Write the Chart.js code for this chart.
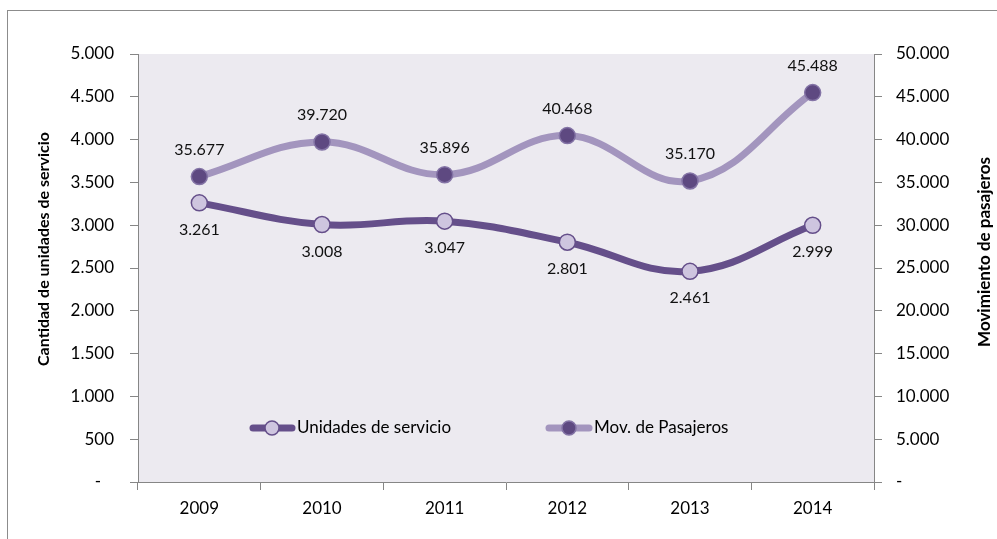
<!DOCTYPE html>
<html>
<head>
<meta charset="utf-8">
<script src="https://cdn.jsdelivr.net/npm/chart.js@4.4.0/dist/chart.umd.min.js"></script>
<style>
  html, body { margin: 0; padding: 0; background: #ffffff; }
  #wrap { width: 997px; height: 539px; position: relative; }
</style>
</head>
<body>
<div id="wrap"><canvas id="c" width="997" height="539"></canvas></div>
<script>
const categories = ['2009', '2010', '2011', '2012', '2013', '2014'];
const unidadesServicio = [3261, 3008, 3047, 2801, 2461, 2999];
const movPasajeros = [35677, 39720, 35896, 40468, 35170, 45488];
const seriesNames = ['Unidades de servicio', 'Mov. de Pasajeros'];
const leftAxisTitle = 'Cantidad de unidades de servicio';
const rightAxisTitle = 'Movimiento de pasajeros';

const FONT = 'Lato, "Open Sans", sans-serif';
const AXIS = '#868686';
const C_UNI_LINE = '#654F8A';
const C_UNI_PT = '#CEC5DF';
const C_MOV_LINE = '#A395BE';
const C_MOV_PT = '#5E4981';
const C_MOV_PT_BORDER = '#8474A6';

function fmt(v) {
  if (v === 0) return '-';
  return String(Math.round(v)).replace(/\B(?=(\d{3})+(?!\d))/g, '.');
}

const decorPlugin = {
  id: 'decor',
  beforeDraw(chart) {
    const ctx = chart.ctx, a = chart.chartArea;
    ctx.save();
    ctx.fillStyle = '#ffffff';
    ctx.fillRect(0, 0, chart.width, chart.height);
    ctx.strokeStyle = '#8c8c8c';
    ctx.lineWidth = 1;
    ctx.strokeRect(7.5, 10.5, 2000, 2000);
    ctx.fillStyle = '#ECEAF0';
    ctx.fillRect(a.left, a.top, a.right - a.left, a.bottom - a.top);
    ctx.restore();
  },
  afterDatasetsDraw(chart) {
    const ctx = chart.ctx;
    ctx.save();
    ctx.font = '16px ' + FONT;
    ctx.fillStyle = '#111111';
    ctx.textAlign = 'center';
    ctx.textBaseline = 'middle';
    const m0 = chart.getDatasetMeta(0), m1 = chart.getDatasetMeta(1);
    m0.data.forEach((p, i) => ctx.fillText(fmt(unidadesServicio[i]), p.x, p.y + 27));
    m1.data.forEach((p, i) => ctx.fillText(fmt(movPasajeros[i]), p.x, p.y - 27));

    // axis titles
    ctx.fillStyle = '#000000';
    ctx.save();
    ctx.font = 'bold 16px ' + FONT;
    ctx.translate(44, 249);
    ctx.rotate(-Math.PI / 2);
    ctx.fillText(leftAxisTitle, 0, 0);
    ctx.restore();
    ctx.save();
    ctx.font = 'bold 17px ' + FONT;
    ctx.translate(985, 252);
    ctx.rotate(-Math.PI / 2);
    ctx.fillText(rightAxisTitle, 0, 0);
    ctx.restore();

    // legend
    const ly = 428;
    const items = [
      { x0: 250, x1: 295, mx: 272, line: C_UNI_LINE, fill: C_UNI_PT, border: C_UNI_LINE, tx: 297, name: seriesNames[0] },
      { x0: 546, x1: 592, mx: 569, line: C_MOV_LINE, fill: C_MOV_PT, border: C_MOV_PT_BORDER, tx: 594, name: seriesNames[1] }
    ];
    items.forEach(it => {
      ctx.strokeStyle = it.line;
      ctx.lineWidth = 7;
      ctx.lineCap = 'round';
      ctx.beginPath();
      ctx.moveTo(it.x0 + 3, ly);
      ctx.lineTo(it.x1 - 3, ly);
      ctx.stroke();
      ctx.beginPath();
      ctx.arc(it.mx, ly, 7, 0, Math.PI * 2);
      ctx.fillStyle = it.fill;
      ctx.fill();
      ctx.lineWidth = 1.5;
      ctx.strokeStyle = it.border;
      ctx.stroke();
      ctx.font = '17px ' + FONT;
      ctx.fillStyle = '#000000';
      ctx.textAlign = 'left';
      ctx.fillText(it.name, it.tx, ly);
    });
    ctx.restore();
  }
};

new Chart(document.getElementById('c'), {
  type: 'line',
  data: {
    labels: categories,
    datasets: [
      {
        label: seriesNames[0],
        data: unidadesServicio,
        yAxisID: 'y',
        borderColor: C_UNI_LINE,
        borderWidth: 7,
        tension: 0.4,
        pointRadius: 8,
        pointBackgroundColor: C_UNI_PT,
        pointBorderColor: C_UNI_LINE,
        pointBorderWidth: 1.5,
        fill: false
      },
      {
        label: seriesNames[1],
        data: movPasajeros,
        yAxisID: 'y1',
        borderColor: C_MOV_LINE,
        borderWidth: 7,
        tension: 0.4,
        pointRadius: 8,
        pointBackgroundColor: C_MOV_PT,
        pointBorderColor: C_MOV_PT_BORDER,
        pointBorderWidth: 1.5,
        fill: false
      }
    ]
  },
  options: {
    responsive: false,
    animation: false,
    devicePixelRatio: 1,
    layout: { padding: { top: 54, left: 0, right: 0, bottom: 0 } },
    plugins: { legend: { display: false }, tooltip: { enabled: false } },
    scales: {
      x: {
        type: 'category',
        offset: true,
        grid: { offset: true, drawOnChartArea: false, drawTicks: true, tickLength: 8, color: AXIS },
        border: { color: AXIS, width: 1 },
        ticks: { color: '#000', font: { family: FONT, size: 17 }, padding: 8, maxRotation: 0 },
        afterFit(s) { s.height = 57; }
      },
      y: {
        position: 'left',
        min: 0, max: 5000,
        grid: { drawOnChartArea: false, drawTicks: true, tickLength: 8, color: AXIS },
        border: { color: AXIS, width: 1 },
        ticks: { stepSize: 500, color: '#000', font: { family: FONT, size: 17 }, padding: 16,
                 callback: v => v === 0 ? '-   ' : fmt(v) },
        afterFit(s) { s.width = 138; }
      },
      y1: {
        position: 'right',
        min: 0, max: 50000,
        grid: { drawOnChartArea: false, drawTicks: true, tickLength: 8, color: AXIS },
        border: { color: AXIS, width: 1 },
        ticks: { stepSize: 5000, color: '#000', font: { family: FONT, size: 17 }, padding: 14,
                 callback: v => fmt(v) },
        afterFit(s) { s.width = 123; }
      }
    }
  },
  plugins: [decorPlugin]
});
</script>
</body>
</html>
